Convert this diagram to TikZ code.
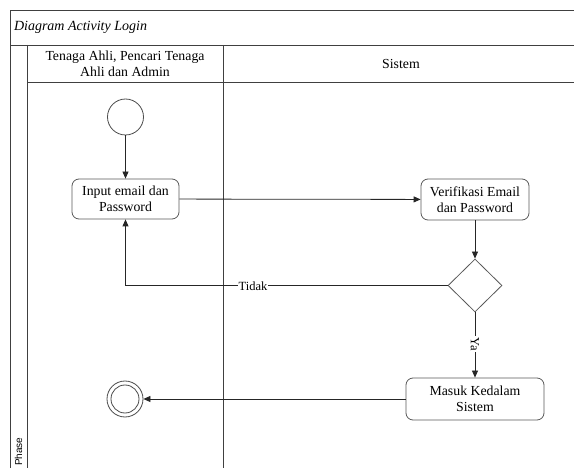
\documentclass[tikz,border=0pt]{standalone}
\usepackage{fontspec}
\setmainfont{Liberation Serif}
\setsansfont{Liberation Sans}
\usetikzlibrary{arrows.meta,shapes.geometric}
\tikzset{
  frame/.style={draw=black!75, line width=0.9pt},
  act/.style={draw=black!65, line width=0.8pt, rounded corners=7pt, align=center, font=\fontsize{13.8}{16}\selectfont, inner sep=0pt},
  flow/.style={draw=black!85, line width=0.8pt, -{Triangle[length=7pt,width=6pt]}},
  plain/.style={draw=black!85, line width=0.8pt},
  lbl/.style={fill=white, inner sep=1pt, font=\fontsize{12.5}{14}\selectfont}
}
\begin{document}
\begin{tikzpicture}[x=1pt,y=-1pt]
\useasboundingbox (0,0) rectangle (574,468);
% frame
\draw[frame] (10,468) -- (10,10) -- (574,10);
\draw[frame] (10,45) -- (574,45);
\draw[frame] (27,82) -- (574,82);
\draw[frame] (27,45) -- (27,468);
\draw[frame] (223,45) -- (223,468);
\node[anchor=west, font=\fontsize{14}{16}\selectfont\itshape] (title) at (10.5,27) {Diagram Activity Login};
\node[align=center, font=\fontsize{13.8}{16}\selectfont] (lane1) at (125,63.5) {Tenaga Ahli, Pencari Tenaga\\Ahli dan Admin};
\node[font=\fontsize{13.8}{16}\selectfont] (lane2) at (401,64) {Sistem};
\node[rotate=90, anchor=west, font=\sffamily\fontsize{10}{12}\selectfont, inner sep=0pt] (phase) at (18.5,466) {Phase};
% nodes
\node[circle, draw=black!70, line width=0.8pt, minimum size=36pt, inner sep=0pt] (start) at (125.5,117) {};
\node[act, minimum width=107pt, minimum height=40pt] (input) at (125.5,199) {Input email dan\\Password};
\node[act, minimum width=108pt, minimum height=41pt] (verif) at (475,199.5) {Verifikasi Email\\dan Password};
\node[diamond, draw=black!65, line width=0.8pt, minimum width=54pt, minimum height=53pt, inner sep=0pt] (dec) at (475,285.5) {};
\node[act, minimum width=138pt, minimum height=42pt] (masuk) at (475,399) {Masuk Kedalam\\Sistem};
\node[circle, draw=black!70, line width=0.8pt, minimum size=36pt, inner sep=0pt] (end) at (125,399) {};
\node[circle, draw=black!70, line width=0.8pt, minimum size=28pt, inner sep=0pt] (endin) at (125,399) {};
% connectors
\draw[flow] (start) -- (input);
\draw[flow] (input) -- (verif);
\draw[flow] (verif) -- (dec);
\draw[flow] (dec.west) -- (input.south |- dec.west) -- (input.south);
\node[lbl] (tidak) at (253,286) {Tidak};
\draw[flow] (dec.south) -- (masuk.north);
\node[lbl, rotate=-90] (ya) at (475,344) {Ya};
\draw[flow] (masuk.west) -- (end.east);
\end{tikzpicture}
\end{document}
